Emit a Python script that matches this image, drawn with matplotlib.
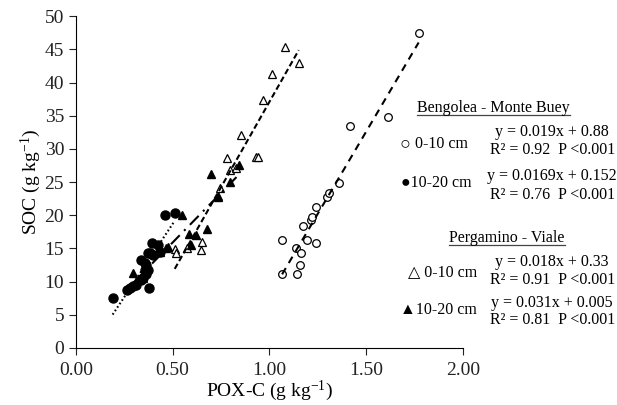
import matplotlib
matplotlib.use("Agg")
import matplotlib.pyplot as plt
from matplotlib.lines import Line2D
import numpy as np

plt.rcParams['font.family'] = ['Liberation Serif', 'DejaVu Sans']
plt.rcParams['mathtext.fontset'] = 'custom'
plt.rcParams['mathtext.rm'] = 'Liberation Serif'
plt.rcParams['mathtext.it'] = 'Liberation Serif:italic'

# Bengolea - Monte Buey, 0-10 cm (open circles)
bmb_0_10_pox = [1.066, 1.066, 1.14, 1.143, 1.16, 1.166, 1.174, 1.195, 1.214, 1.22,
                1.24, 1.24, 1.30, 1.307, 1.36, 1.415, 1.613, 1.772]
bmb_0_10_soc = [16.3, 11.2, 15.1, 11.1, 12.5, 14.3, 18.3, 16.3, 19.3, 19.7,
                21.2, 15.8, 22.8, 23.4, 24.9, 33.5, 34.8, 47.4]

# Bengolea - Monte Buey, 10-20 cm (filled circles)
bmb_10_20_pox = [0.19, 0.262, 0.279, 0.296, 0.313, 0.339, 0.348, 0.356, 0.365, 0.373,
                 0.365, 0.339, 0.356, 0.382, 0.373, 0.391, 0.40, 0.425, 0.434, 0.377,
                 0.46, 0.511]
bmb_10_20_soc = [7.5, 8.7, 9.0, 9.4, 9.5, 10.2, 10.5, 11.7, 11.2, 11.7,
                 12.5, 13.3, 12.8, 14.3, 14.3, 15.8, 14.0, 15.5, 14.5, 9.0,
                 20.1, 20.4]

# Pergamino - Viale, 0-10 cm (open triangles)
pv_0_10_pox = [0.511, 0.517, 0.572, 0.646, 0.652, 0.733, 0.744, 0.782, 0.795, 0.826,
               0.856, 0.93, 0.94, 0.967, 1.014, 1.08, 1.152]
pv_0_10_soc = [14.9, 14.3, 15.1, 14.7, 15.9, 22.9, 24.1, 28.7, 26.8, 27.1,
               32.1, 28.8, 28.8, 37.3, 41.3, 45.4, 43.0]

# Pergamino - Viale, 10-20 cm (filled triangles)
pv_10_20_pox = [0.296, 0.348, 0.434, 0.468, 0.477, 0.546, 0.585, 0.597, 0.62, 0.678,
                0.697, 0.735, 0.795, 0.843]
pv_10_20_soc = [11.3, 10.6, 14.5, 15.0, 15.2, 20.1, 17.2, 15.5, 17.0, 17.9,
                26.2, 22.8, 25.0, 27.5]

eq_bmb_0_10 = ["y = 0.019x + 0.88", "R² = 0.92  P <0.001"]
eq_bmb_10_20 = ["y = 0.0169x + 0.152", "R² = 0.76  P <0.001"]
eq_pv_0_10 = ["y = 0.018x + 0.33", "R² = 0.91  P <0.001"]
eq_pv_10_20 = ["y = 0.031x + 0.005", "R² = 0.81  P <0.001"]

x_ticks = [0.0, 0.5, 1.0, 1.5, 2.0]
y_ticks = list(range(0, 51, 5))


def trend(ax, xs, ys, style, lw):
    # linear trendline over the range of the data
    xs = np.asarray(xs)
    k, b = np.polyfit(xs, ys, 1)
    xx = np.array([xs.min(), xs.max()])
    ax.plot(xx, k * xx + b, color='black', linestyle=style, linewidth=lw, zorder=3)


def underline(fig, txt):
    # no underline support in text, so draw a rule under the text box
    fig.canvas.draw()
    bb = txt.get_window_extent().transformed(fig.transFigure.inverted())
    y = bb.y0 + 0.004
    fig.add_artist(Line2D([bb.x0, bb.x1], [y, y], color='#444444', linewidth=0.9,
                          transform=fig.transFigure))


fig = plt.figure(figsize=(6.17, 4.05), dpi=100)
ax = fig.add_axes([0.123, 0.141, 0.627, 0.819])

ax.plot(bmb_0_10_pox, bmb_0_10_soc, 'o', ms=5.5, mfc='white', mec='black', mew=0.9)
ax.plot(bmb_10_20_pox, bmb_10_20_soc, 'o', ms=6.5, mfc='black', mec='black')
ax.plot(pv_0_10_pox, pv_0_10_soc, '^', ms=6, mfc='white', mec='black', mew=0.9)
ax.plot(pv_10_20_pox, pv_10_20_soc, '^', ms=6, mfc='black', mec='black')

trend(ax, bmb_0_10_pox, bmb_0_10_soc, (0, (3.5, 2.8)), 1.5)
trend(ax, bmb_10_20_pox, bmb_10_20_soc, (0, (0.8, 1.2)), 1.5)
trend(ax, pv_0_10_pox, pv_0_10_soc, (0, (2.8, 1.5)), 1.5)
trend(ax, pv_10_20_pox, pv_10_20_soc, (0, (6, 3, 1, 3)), 1.5)

ax.set_xlim(0, 2.0)
ax.set_ylim(0, 50)
ax.set_xticks(x_ticks)
ax.set_xticklabels([f"{v:.2f}" for v in x_ticks])
ax.set_yticks(y_ticks)
ax.spines['top'].set_visible(False)
ax.spines['right'].set_visible(False)
ax.tick_params(direction='out', length=5, labelsize=14, colors='#222222')
ax.tick_params(axis='x', pad=5)
ax.set_xlabel("POX-C (g kg$^{-1}$)", fontsize=14, labelpad=0)
ax.set_ylabel("SOC (g kg$^{-1}$)", fontsize=14, labelpad=1)

# right-hand key with regression statistics
fs = 11.5
t1 = fig.text(0.800, 0.723, "Bengolea - Monte Buey", fontsize=fs, ha='center')
fig.text(0.648, 0.645, "○", fontsize=13, va='center')
fig.text(0.672, 0.645, "0-10 cm", fontsize=fs, va='center')
fig.text(0.895, 0.675, eq_bmb_0_10[0], fontsize=fs, ha='center', va='center')
fig.text(0.895, 0.629, eq_bmb_0_10[1], fontsize=fs, ha='center', va='center')
fig.text(0.650, 0.547, "●10-20 cm", fontsize=fs, va='center')
fig.text(0.895, 0.565, eq_bmb_10_20[0], fontsize=fs, ha='center', va='center')
fig.text(0.895, 0.519, eq_bmb_10_20[1], fontsize=fs, ha='center', va='center')

t2 = fig.text(0.822, 0.402, "Pergamino - Viale", fontsize=fs, ha='center')
fig.text(0.662, 0.328, "△ 0-10 cm", fontsize=fs, va='center')
fig.text(0.895, 0.353, eq_pv_0_10[0], fontsize=fs, ha='center', va='center')
fig.text(0.895, 0.308, eq_pv_0_10[1], fontsize=fs, ha='center', va='center')
fig.text(0.649, 0.235, "▲10-20 cm", fontsize=fs, va='center')
fig.text(0.895, 0.252, eq_pv_10_20[0], fontsize=fs, ha='center', va='center')
fig.text(0.895, 0.209, eq_pv_10_20[1], fontsize=fs, ha='center', va='center')

underline(fig, t1)
underline(fig, t2)

fig.savefig("out.png", dpi=100)
